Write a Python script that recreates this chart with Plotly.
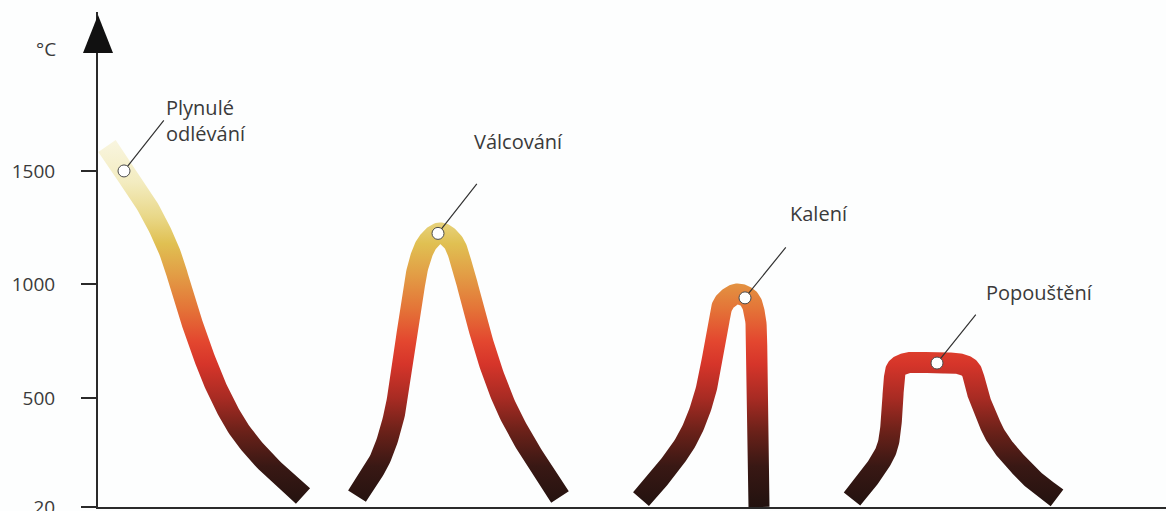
import numpy as np
import plotly.graph_objects as go

# ---------------- data ----------------
tick_vals = [20, 500, 1000, 1500]
tick_text = ["20", "500", "1000", "1500"]
unit_label = "°C"

stage_names = ["Plynulé<br>odlévání", "Válcování", "Kalení", "Popouštění"]

# time axis is in arbitrary units, temperature in °C
cast_t = [9, 26, 52, 72, 87, 102, 120, 142, 170, 205]
cast_T = [1610, 1500, 1324, 1139, 927, 729, 531, 355, 209, 68]

roll_t = [259, 282, 296, 304, 314, 321, 330, 342, 355, 364, 378, 393, 410, 432, 462]
roll_T = [68, 231, 421, 632, 927, 1095, 1187, 1227, 1187, 1082, 852, 632, 443, 267, 64]

quench_t = [543, 567, 590, 605, 614, 620, 626, 639, 651, 657, 659, 660, 661]
quench_T = [55, 178, 324, 487, 663, 817, 919, 958, 936, 861, 663, 311, 20]

temper_t = [754, 776, 789, 794, 796, 799, 809, 839, 862, 872, 877, 881, 888, 895, 906, 920, 937, 959]
temper_T = [55, 178, 280, 430, 575, 632, 654, 654, 650, 628, 571, 500, 430, 355, 280, 209, 134, 60]

marker_t = [26, 340, 647, 839]
marker_T = [1500, 1225, 941, 654]

# ---------------- layout constants ----------------
W, H = 1166, 511
M_L, M_R, M_T, M_B = 98, 0, 12, 4
X_RANGE = [0, 1068]
Y_RANGE = [20, 2200]
SX = (W - M_L - M_R) / (X_RANGE[1] - X_RANGE[0])
SY = (H - M_T - M_B) / (Y_RANGE[1] - Y_RANGE[0])
BAND_PX = 21

heat_scale = [
    [(20 - 20) / 1630, "#22120f"],
    [(200 - 20) / 1630, "#391814"],
    [(350 - 20) / 1630, "#6a2119"],
    [(500 - 20) / 1630, "#a82b23"],
    [(650 - 20) / 1630, "#d6352a"],
    [(750 - 20) / 1630, "#e3472f"],
    [(900 - 20) / 1630, "#e47638"],
    [(1050 - 20) / 1630, "#e29f46"],
    [(1180 - 20) / 1630, "#e0c052"],
    [(1300 - 20) / 1630, "#e9d889"],
    [(1450 - 20) / 1630, "#f3ecc0"],
    [1.0, "#f9f6e2"],
]


def smooth_path(px, py, k=16):
    """Centripetal Catmull-Rom path through the read points (stroke geometry only)."""
    P = np.column_stack([px, py])
    P = np.vstack([2 * P[0] - P[1], P, 2 * P[-1] - P[-2]])
    out = []
    for i in range(1, len(P) - 2):
        p0, p1, p2, p3 = P[i - 1], P[i], P[i + 1], P[i + 2]
        t0 = 0.0
        t1 = t0 + max(np.linalg.norm(p1 - p0), 1e-6) ** 0.5
        t2 = t1 + max(np.linalg.norm(p2 - p1), 1e-6) ** 0.5
        t3 = t2 + max(np.linalg.norm(p3 - p2), 1e-6) ** 0.5
        for t in np.linspace(t1, t2, k, endpoint=False):
            a1 = (t1 - t) / (t1 - t0) * p0 + (t - t0) / (t1 - t0) * p1
            a2 = (t2 - t) / (t2 - t1) * p1 + (t - t1) / (t2 - t1) * p2
            a3 = (t3 - t) / (t3 - t2) * p2 + (t - t2) / (t3 - t2) * p3
            b1 = (t2 - t) / (t2 - t0) * a1 + (t - t0) / (t2 - t0) * a2
            b2 = (t3 - t) / (t3 - t1) * a2 + (t - t1) / (t3 - t1) * a3
            out.append((t2 - t) / (t2 - t1) * b1 + (t - t1) / (t2 - t1) * b2)
    out.append(P[-2])
    out = np.array(out)
    return out[:, 0], out[:, 1]


def band(t, T, width_px):
    """Outline of a thick stroke around the centre line, built in pixel space."""
    px, py = smooth_path(np.asarray(t, float) * SX, np.asarray(T, float) * SY)
    tx = np.gradient(px)
    ty = np.gradient(py)
    n = np.hypot(tx, ty)
    nx, ny = -ty / n, tx / n
    h = width_px / 2.0
    lx, ly = (px + nx * h) / SX, (py + ny * h) / SY
    rx, ry = (px - nx * h) / SX, (py - ny * h) / SY
    xs = np.concatenate([lx, rx[::-1], lx[:1]])
    ys = np.concatenate([ly, ry[::-1], ly[:1]])
    return xs, ys


fig = go.Figure()

for t, T in [(cast_t, cast_T), (roll_t, roll_T), (quench_t, quench_T), (temper_t, temper_T)]:
    bx, by = band(t, T, BAND_PX)
    fig.add_trace(go.Scatter(
        x=bx, y=by, mode="lines", fill="toself",
        line=dict(width=0, color="rgba(0,0,0,0)"),
        fillgradient=dict(type="vertical", colorscale=heat_scale, start=20, stop=1650),
        hoverinfo="skip", showlegend=False,
    ))

fig.add_trace(go.Scatter(
    x=marker_t, y=marker_T, mode="markers",
    marker=dict(size=12, color="white", line=dict(color="#4a4a4a", width=1)),
    showlegend=False, hoverinfo="skip", cliponaxis=False,
))

text_font = dict(family="Open Sans, Noto Sans, sans-serif", size=20, color="#3a3a3a")
leader = [(41, -52), (40, -51), (42, -52), (40, -50)]
label_shift = [(40, 50, "left"), (80, 92, "center"), (74, 84, "center"), (102, 71, "center")]

annotations = []
for i in range(len(stage_names)):
    ax, ay = leader[i]
    annotations.append(dict(
        x=marker_t[i], y=marker_T[i], xref="x", yref="y", text="",
        showarrow=True, arrowhead=0, arrowwidth=1.2, arrowcolor="#333333",
        ax=ax, ay=ay, standoff=6,
    ))
    xs, ys, anc = label_shift[i]
    annotations.append(dict(
        x=marker_t[i], y=marker_T[i], xref="x", yref="y", text=stage_names[i],
        showarrow=False, xshift=xs, yshift=ys, xanchor=anc, yanchor="middle",
        align="left", font=text_font,
    ))

annotations.append(dict(
    x=0, y=1, xref="paper", yref="paper", text=unit_label, showarrow=False,
    xanchor="right", yanchor="middle", xshift=-40, yshift=-37,
    font=dict(family="Open Sans, Noto Sans, sans-serif", size=19, color="#3a3a3a"),
))

fig.update_layout(
    width=W, height=H,
    margin=dict(l=M_L, r=M_R, t=M_T, b=M_B, pad=0, autoexpand=False),
    paper_bgcolor="#fdfefe", plot_bgcolor="#fdfefe",
    showlegend=False,
    annotations=annotations,
    shapes=[dict(
        type="path", xref="paper", yref="paper",
        xsizemode="pixel", ysizemode="pixel", xanchor=0, yanchor=1,
        path="M -15,-41 L 15,-41 L 0,-3 Z",
        fillcolor="#111111", line=dict(width=0), layer="above",
    )],
    xaxis=dict(
        range=X_RANGE, showgrid=False, zeroline=False, showticklabels=False,
        ticks="", showline=True, linecolor="#2a2a2a", linewidth=2, fixedrange=True,
        automargin=False,
    ),
    yaxis=dict(
        range=Y_RANGE, showgrid=False, zeroline=False,
        tickvals=tick_vals, ticktext=tick_text, ticks="outside", ticklen=15,
        tickwidth=1.5, tickcolor="#2a2a2a", ticklabelstandoff=22,
        ticklabeloverflow="allow", automargin=False,
        tickfont=dict(family="Open Sans, Noto Sans, sans-serif", size=19, color="#3a3a3a"),
        showline=True, linecolor="#2a2a2a", linewidth=2, fixedrange=True,
    ),
)

fig.write_html(
    "out.html",
    config={"displayModeBar": False},
    post_script="document.body.style.margin='0px';document.body.style.overflow='hidden';",
)
